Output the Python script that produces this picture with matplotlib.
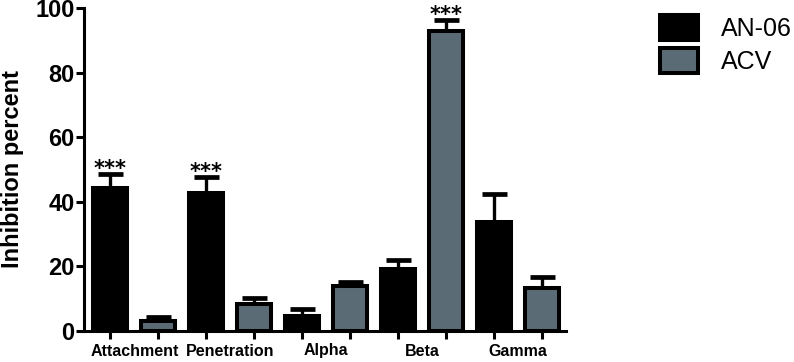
import matplotlib.pyplot as plt
import numpy as np

plt.rcParams['font.family'] = ['Liberation Sans', 'DejaVu Sans']

groups = ['Attachment', 'Penetration', 'Alpha', 'Beta', 'Gamma']
an06 = [44.3, 42.6, 4.7, 19.2, 33.8]
an06_err = [4.3, 5.1, 2.0, 2.8, 8.5]
acv = [3.2, 8.4, 14.0, 92.9, 13.2]
acv_err = [1.0, 1.8, 1.3, 3.4, 3.4]
an06_sig = ['***', '***', '', '', '']
acv_sig = ['', '', '', '***', '']

fig = plt.figure(figsize=(7.94, 3.62), dpi=100)
ax = fig.add_axes([84 / 794, 1 - 331 / 362, 482 / 794, 323 / 362])

x = np.arange(len(groups))
pos_a = 2 * x
pos_b = 2 * x + 1
w = 0.71
lw = 2.9
gray = '#5b6b75'

ax.bar(pos_a, an06, w, color='black', edgecolor='black', linewidth=lw, label='AN-06', zorder=3)
ax.bar(pos_b, acv, w, color=gray, edgecolor='black', linewidth=lw, label='ACV', zorder=3)

for pos, vals, errs in [(pos_a, an06, an06_err), (pos_b, acv, acv_err)]:
    ax.errorbar(pos, vals, yerr=[np.zeros(len(errs)), errs], fmt='none', ecolor='black',
                elinewidth=2.4, capsize=9, capthick=3.4, zorder=2)

# significance stars just above the error caps
for pos, vals, errs, sig in [(pos_a, an06, an06_err, an06_sig), (pos_b, acv, acv_err, acv_sig)]:
    for p, v, e, s in zip(pos, vals, errs, sig):
        if s:
            ax.annotate(s, xy=(p, v + e), xytext=(0, -0.8), textcoords='offset points',
                        ha='center', va='baseline', fontsize=15, fontweight='bold',
                        family='DejaVu Sans', annotation_clip=False)

ax.set_xlim(-0.55, 9.5)
ax.set_ylim(0, 100)
ax.set_yticks([0, 20, 40, 60, 80, 100])
ax.tick_params(axis='y', labelsize=17, width=2.2, length=5.8, pad=1)
for t in ax.get_yticklabels():
    t.set_fontweight('bold')

ax.set_xticks(np.arange(10))
ax.set_xticklabels([])
ax.tick_params(axis='x', which='major', width=2.2, length=5.5)
ax.set_xticks(2 * x + 0.5, minor=True)
ax.set_xticklabels(groups, minor=True, fontsize=11.5, fontweight='bold')
ax.tick_params(axis='x', which='minor', length=0, pad=9)

ax.set_ylabel('Inhibition percent', fontsize=17, fontweight='bold', labelpad=8)

for s in ['top', 'right']:
    ax.spines[s].set_visible(False)
for s in ['left', 'bottom']:
    ax.spines[s].set_linewidth(2.2)

fig.legend(loc='upper left', bbox_to_anchor=(650 / 794, 1 - 5 / 362), frameon=False,
           fontsize=18, handlelength=1.5, handleheight=1.15, handletextpad=0.95,
           labelspacing=0.3, borderaxespad=0)

fig.savefig('out.png', dpi=100)
